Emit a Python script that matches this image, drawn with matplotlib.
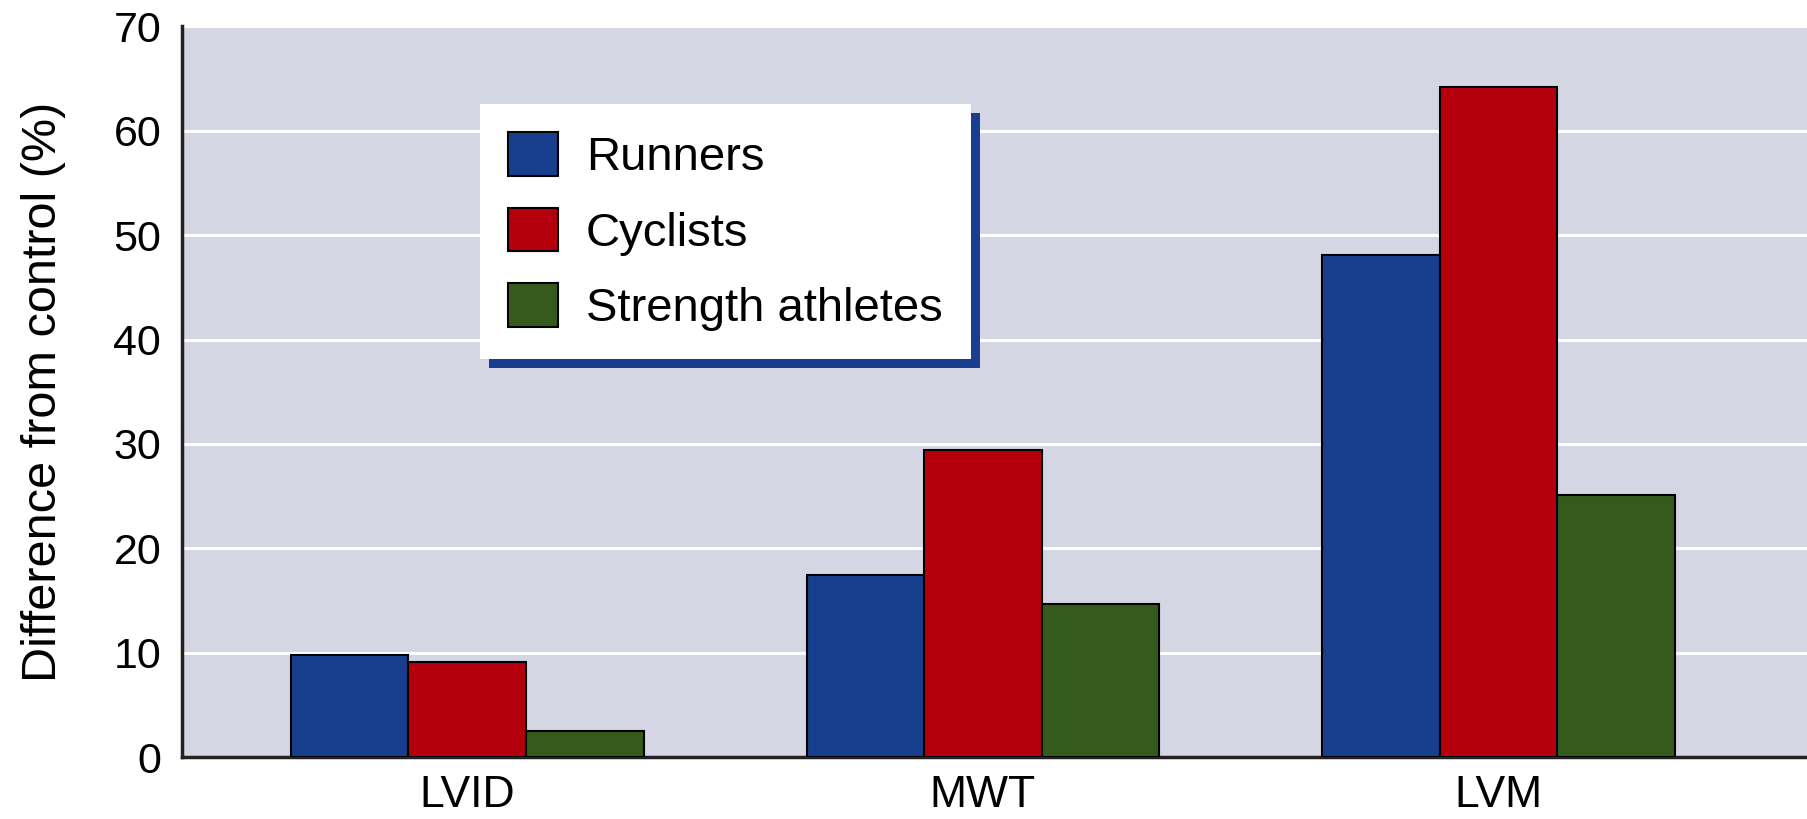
import numpy as np
import matplotlib
matplotlib.use("Agg")
from matplotlib import pyplot as plt
from matplotlib.patches import Rectangle

plt.rcParams['font.family'] = ['Liberation Sans', 'DejaVu Sans']

categories = ['LVID', 'MWT', 'LVM']
runners = [9.8, 17.4, 48.1]
cyclists = [9.1, 29.4, 64.2]
strength = [2.5, 14.7, 25.1]
series_names = ['Runners', 'Cyclists', 'Strength athletes']
colors = ['#173f8d', '#b3000c', '#345b1c']
yticks = [0, 10, 20, 30, 40, 50, 60, 70]

fig = plt.figure(figsize=(18.08, 8.19), dpi=100)
ax = fig.add_axes([0.1007, 0.0757, 0.8993, 0.892])
ax.set_facecolor('#d4d6e3')

x = np.arange(len(categories))
width = 0.228
for i, (vals, name, c) in enumerate(zip([runners, cyclists, strength], series_names, colors)):
    ax.bar(x + (i - 1) * width, vals, width, color=c, edgecolor='black',
           linewidth=1.5, label=name, zorder=3)

ax.set_xlim(-0.553, 2.60)
ax.set_ylim(0, 70)
ax.set_yticks(yticks)
ax.set_xticks(x, categories)
ax.grid(axis='y', color='white', linewidth=2.2, zorder=1)
ax.set_axisbelow(True)
ax.tick_params(axis='y', length=0, labelsize=31, pad=15)
ax.tick_params(axis='x', length=0, labelsize=32, pad=13)
for s in ['top', 'right']:
    ax.spines[s].set_visible(False)
for s in ['left', 'bottom']:
    ax.spines[s].set_linewidth(2.5)
    ax.spines[s].set_color('#222222')
ax.set_ylabel('Difference from control (%)', fontsize=35, labelpad=34)

leg = ax.legend(loc='upper left', bbox_to_anchor=(0.183, 0.894), borderaxespad=0,
                fontsize=34, frameon=True, fancybox=False, framealpha=1,
                edgecolor='none', facecolor='white', handlelength=1.05,
                handleheight=1.05, handletextpad=0.6, labelspacing=0.58,
                borderpad=0.6)
leg.set_zorder(6)

# blue drop shadow behind the legend box
fig.canvas.draw()
bb = leg.get_window_extent()
off = 9
shadow = Rectangle((bb.x0 + off, bb.y0 - off), bb.width, bb.height,
                   transform=None, facecolor='#1a3e8f', edgecolor='none', zorder=5)
ax.add_artist(shadow)

fig.savefig('out.png', dpi=100)
